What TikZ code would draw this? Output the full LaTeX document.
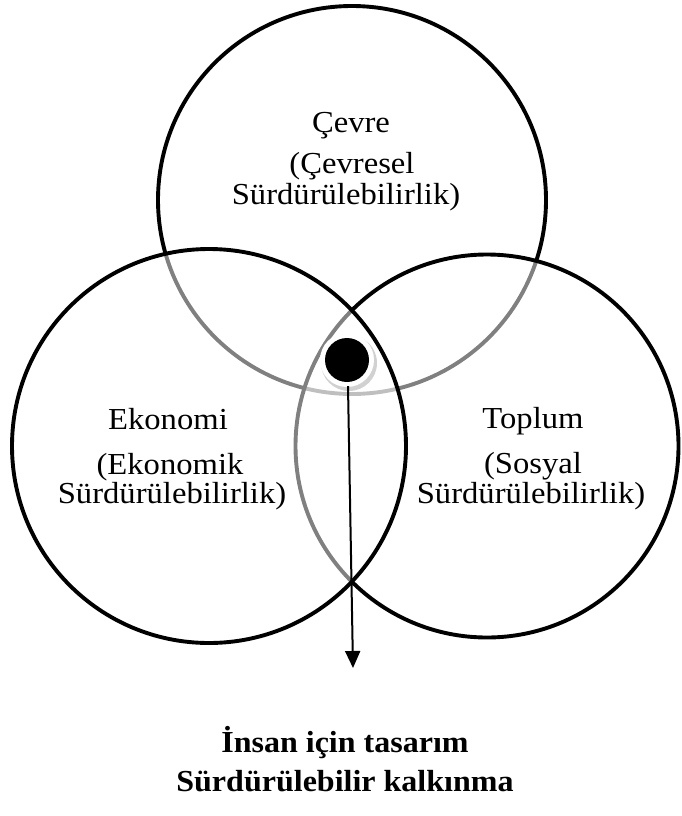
\documentclass[tikz,border=0pt]{standalone}
\usepackage{fontspec}
\setmainfont{Liberation Serif}[FakeStretch=1.07]
\newfontfamily\boldstretch{Liberation Serif}[FakeStretch=1.05,UprightFont=*,BoldFont=* Bold]
\usetikzlibrary{arrows.meta}
\begin{document}
\begin{tikzpicture}[x=1pt,y=-1pt,
  ring/.style={circle, draw=black, line width=3.9pt, inner sep=0pt, fill=white, fill opacity=0.5, draw opacity=1},
  lbl/.style={anchor=base, inner sep=0pt, font=\fontsize{30.5}{32}\selectfont},
  blbl/.style={anchor=base, inner sep=0pt, font=\boldstretch\bfseries\fontsize{30.5}{32}\selectfont}]
\useasboundingbox (0,0) rectangle (682,816);
% circles: top first, then right, then left
\node[ring, fill=none, minimum size=388pt] (cevre) at (352,200) {};
\node[ring, minimum size=383pt] (toplum) at (487,446) {};
\node[ring, minimum size=394pt] (ekonomi) at (209,446) {};
% centre dot
\node[circle, fill=black!18, minimum size=56pt, inner sep=0pt] (halo) at (349,363) {};
\node[circle, fill=white, minimum size=54pt, inner sep=0pt] (halow) at (347,360) {};
\node[circle, fill=black, minimum size=44pt, inner sep=0pt] (dot) at (347,360) {};
\coordinate (tip) at (353,668);
\draw[line width=2pt, -{Triangle[width=15pt,length=17pt]}] (dot.south) ++(1,4) -- (tip);
% labels
\node[lbl] (c1) at (351,132) {Çevre};
\node[lbl] (c2) at (352,173) {(Çevresel};
\node[lbl] (c3) at (346,204) {Sürdürülebilirlik)};
\node[lbl] (e1) at (168,429) {Ekonomi};
\node[lbl] (e2) at (170,474) {(Ekonomik};
\node[lbl] (e3) at (172,503) {Sürdürülebilirlik)};
\node[lbl] (t1) at (533,428) {Toplum};
\node[lbl] (t2) at (533,473) {(Sosyal};
\node[lbl] (t3) at (531,503) {Sürdürülebilirlik)};
\node[blbl] (b1) at (345,752) {İnsan için tasarım};
\node[blbl] (b2) at (345,791) {Sürdürülebilir kalkınma};
\end{tikzpicture}
\end{document}
